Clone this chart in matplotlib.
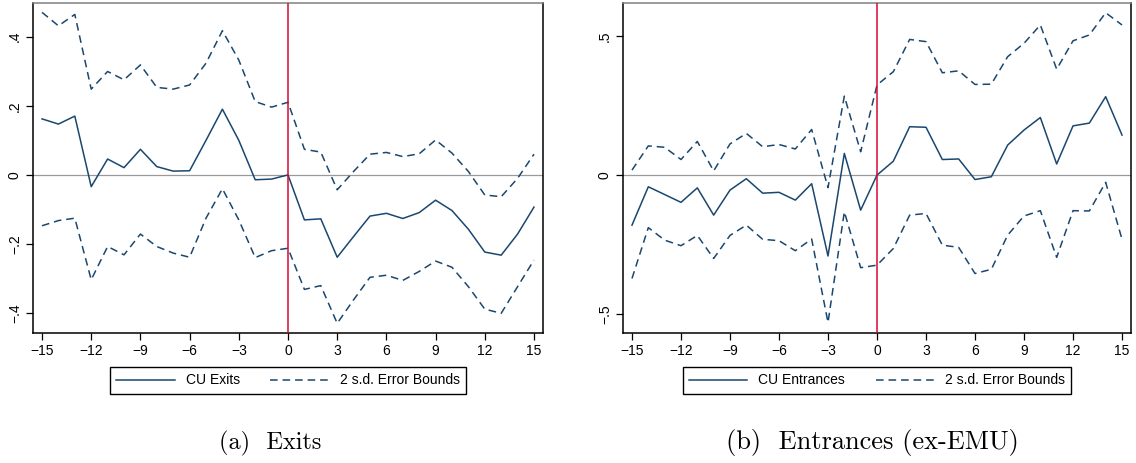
import numpy as np
import matplotlib
matplotlib.use("Agg")
from matplotlib import pyplot as plt
from matplotlib.lines import Line2D

# horizon (years relative to event)
horizon = list(range(-15, 16))

# (a) Exits
exit_coef = [0.162, 0.147, 0.170, -0.034, 0.046, 0.021, 0.074, 0.024, 0.011, 0.012,
             0.100, 0.190, 0.100, -0.014, -0.012, 0.000,
             -0.130, -0.127, -0.238, -0.178, -0.119, -0.111, -0.126, -0.109, -0.073,
             -0.103, -0.157, -0.223, -0.232, -0.171, -0.093]
exit_upper = [0.470, 0.431, 0.464, 0.248, 0.299, 0.275, 0.318, 0.253, 0.248, 0.260,
              0.323, 0.417, 0.332, 0.212, 0.196, 0.210,
              0.074, 0.066, -0.043, 0.010, 0.060, 0.065, 0.053, 0.061, 0.101,
              0.063, 0.010, -0.058, -0.063, -0.010, 0.060]
exit_lower = [-0.147, -0.132, -0.125, -0.303, -0.207, -0.231, -0.171, -0.207, -0.226, -0.238,
              -0.125, -0.040, -0.130, -0.239, -0.219, -0.212,
              -0.331, -0.320, -0.429, -0.361, -0.296, -0.290, -0.305, -0.279, -0.249,
              -0.267, -0.323, -0.388, -0.400, -0.323, -0.246]

# (b) Entrances (ex-EMU)
entr_coef = [-0.180, -0.042, -0.070, -0.098, -0.046, -0.144, -0.054, -0.013, -0.065, -0.062,
             -0.090, -0.031, -0.291, 0.078, -0.126, 0.000,
             0.050, 0.174, 0.172, 0.056, 0.058, -0.016, -0.006, 0.108, 0.162,
             0.207, 0.040, 0.177, 0.187, 0.282, 0.144]
entr_upper = [0.018, 0.105, 0.100, 0.056, 0.121, 0.015, 0.112, 0.150, 0.102, 0.110,
              0.094, 0.164, -0.045, 0.284, 0.084, 0.324,
              0.372, 0.488, 0.480, 0.368, 0.375, 0.326, 0.327, 0.426, 0.474,
              0.540, 0.381, 0.483, 0.504, 0.584, 0.540]
entr_lower = [-0.372, -0.189, -0.234, -0.254, -0.217, -0.300, -0.217, -0.180, -0.231, -0.236,
              -0.272, -0.230, -0.530, -0.132, -0.333, -0.324,
              -0.264, -0.144, -0.138, -0.252, -0.260, -0.354, -0.339, -0.216, -0.147,
              -0.128, -0.296, -0.128, -0.129, -0.026, -0.231]

xticks = list(range(-15, 16, 3))
exit_yticks = [-0.4, -0.2, 0, 0.2, 0.4]
exit_ylabels = ["\u2212.4", "\u2212.2", "0", ".2", ".4"]
entr_yticks = [-0.5, 0, 0.5]
entr_ylabels = ["\u2212.5", "0", ".5"]

NAVY = "#1a476f"
RED = "#d40a35"

plt.rcParams["font.family"] = ["Liberation Sans", "DejaVu Sans"]

W, H = 1136, 463
fig = plt.figure(figsize=(W / 100, H / 100), dpi=100)


def panel(left_px, width_px, coef, upper, lower, yticks, ylabels, ylim,
          label, caption, caption_x, caption_size):
    ax = fig.add_axes([left_px / W, 130 / H, width_px / W, 330 / H])
    ax.axhline(0, color="#9a9a9a", lw=0.9, zorder=1)
    ax.axvline(0, color=RED, lw=1.1, zorder=3)
    ax.plot(horizon, coef, color=NAVY, lw=1.1, zorder=2)
    ax.plot(horizon, upper, color=NAVY, lw=1.1, dashes=(5, 3.2), zorder=2)
    ax.plot(horizon, lower, color=NAVY, lw=1.1, dashes=(5, 3.2), zorder=2)
    ax.set_xlim(-15.55, 15.55)
    ax.set_ylim(*ylim)
    ax.set_xticks(xticks)
    ax.set_xticklabels([str(t).replace("-", "\u2212") for t in xticks])
    ax.set_yticks(yticks)
    ax.set_yticklabels(ylabels, rotation=90, va="center")
    ax.tick_params(direction="out", length=5, width=0.9, labelsize=10,
                   color="black", pad=3)
    for s in ("left", "bottom", "right"):
        ax.spines[s].set_color("black")
        ax.spines[s].set_linewidth(1.1)
    ax.spines["top"].set_color("#808080")
    ax.spines["top"].set_linewidth(1.1)

    handles = [Line2D([], [], color=NAVY, lw=1.1),
               Line2D([], [], color=NAVY, lw=1.1, dashes=(5, 3.2))]
    cx = (left_px + width_px / 2) / W
    fig.legend(handles, [label, "2 s.d. Error Bounds"], loc="center",
               bbox_to_anchor=(cx, (H - 380.5) / H), ncol=2, fontsize=10,
               frameon=True, fancybox=False, edgecolor="black",
               framealpha=1, handlelength=4.2, columnspacing=2.2,
               borderpad=0.45, handletextpad=0.8).get_frame().set_linewidth(1.0)
    fig.text(caption_x / W, (H - 443) / H, caption, ha="center", va="center",
             fontsize=caption_size, family="cmr10")
    return ax


panel(33, 510, exit_coef, exit_upper, exit_lower, exit_yticks, exit_ylabels,
      (-0.457, 0.497), "CU Exits", "(a)  Exits", 270, 17.5)
panel(623, 508, entr_coef, entr_upper, entr_lower, entr_yticks, entr_ylabels,
      (-0.568, 0.619), "CU Entrances", "(b)  Entrances (ex-EMU)", 872, 19)

fig.savefig("out.png", dpi=100)
